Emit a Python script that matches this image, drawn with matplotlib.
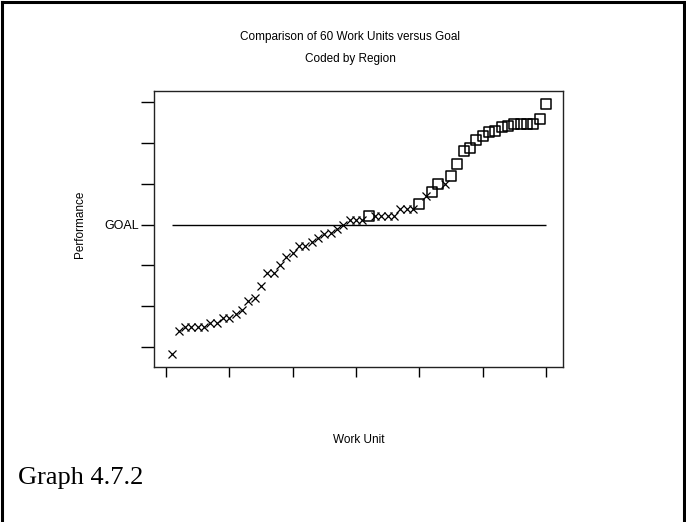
import numpy as np
import matplotlib
matplotlib.use('Agg')
from matplotlib import pyplot as plt
from matplotlib.lines import Line2D
from matplotlib.markers import MarkerStyle

# performance of each work unit, relative to goal (goal = 0), sorted ascending
performance = [-3.18, -2.61, -2.51, -2.51, -2.51, -2.51, -2.41, -2.41, -2.30, -2.30,
               -2.19, -2.10, -1.89, -1.80, -1.51, -1.19, -1.19, -1.00, -0.80, -0.70,
               -0.52, -0.52, -0.43, -0.32, -0.24, -0.22, -0.11, -0.01, 0.10, 0.10,
               0.10, 0.21, 0.21, 0.21, 0.21, 0.21, 0.39, 0.39, 0.39, 0.50,
               0.69, 0.79, 0.99, 0.99, 1.18, 1.49, 1.80, 1.89, 2.07, 2.18,
               2.27, 2.30, 2.39, 2.42, 2.48, 2.48, 2.48, 2.48, 2.58, 2.97]
# region code: 'x' or 'o' (square)
region = ['x'] * 31 + ['o'] + ['x'] * 7 + ['o', 'x', 'o', 'o', 'x'] + ['o'] * 16
units = list(range(1, 61))
goal = 0
x_ticks = [0, 10, 20, 30, 40, 50, 60]
y_ticks = [-3, -2, -1, 0, 1, 2, 3]
y_labels = ['', '', '', 'GOAL', '', '', '']

sans = 'Liberation Sans'

fig = plt.figure(figsize=(6.86, 5.22), dpi=100)
ax = fig.add_axes([154 / 686, 1 - 367 / 522, (563 - 154) / 686, (367 - 91) / 522])

units_arr = np.array(units)
perf_arr = np.array(performance)
reg_arr = np.array(region)

ax.plot(units_arr[reg_arr == 'x'], perf_arr[reg_arr == 'x'], linestyle='none',
        marker='x', markersize=6, markeredgewidth=0.9, color='black')
ax.plot(units_arr[reg_arr == 'o'], perf_arr[reg_arr == 'o'], linestyle='none',
        marker=MarkerStyle('s', joinstyle='round'), markersize=7.8, markeredgewidth=1.1,
        markerfacecolor='none', markeredgecolor='black')
ax.hlines(goal, units[0], units[-1], color='black', linewidth=1.0)

ax.set_xlim(-1.9, 62.7)
ax.set_ylim(-3.5, 3.28)
ax.set_xticks(x_ticks)
ax.set_xticklabels([''] * len(x_ticks))
ax.set_yticks(y_ticks)
ax.set_yticklabels(y_labels, fontfamily=sans, fontsize=9)
ax.tick_params(axis='y', length=9.5, width=1.0, pad=1.5, direction='out')
ax.tick_params(axis='x', length=7, width=1.0, direction='out')
for s in ax.spines.values():
    s.set_linewidth(1.0)
    s.set_color('#222222')

fig.text(80 / 686, 1 - 224 / 522, 'Performance', rotation=90, ha='center', va='center',
         fontfamily=sans, fontsize=8.5)
fig.text(359 / 686, 1 - 440 / 522, 'Work Unit', ha='center', va='center',
         fontfamily=sans, fontsize=8.5)
fig.text(350 / 686, 1 - 37 / 522, 'Comparison of 60 Work Units versus Goal',
         ha='center', va='center', fontfamily=sans, fontsize=8.5)
fig.text(350 / 686, 1 - 59 / 522, 'Coded by Region', ha='center', va='center',
         fontfamily=sans, fontsize=8.5)
fig.text(18 / 686, 1 - 484 / 522, 'Graph 4.7.2', ha='left', va='baseline',
         fontfamily='Liberation Serif', fontsize=19)

# outer frame (left, top, right)
for xs, ys in [([0.003, 0.003], [0, 0.997]), ([0.003, 0.997], [0.997, 0.997]),
               ([0.997, 0.997], [0, 0.997])]:
    fig.add_artist(Line2D(xs, ys, transform=fig.transFigure, color='black', linewidth=2.2))

fig.savefig('out.png', dpi=100)
